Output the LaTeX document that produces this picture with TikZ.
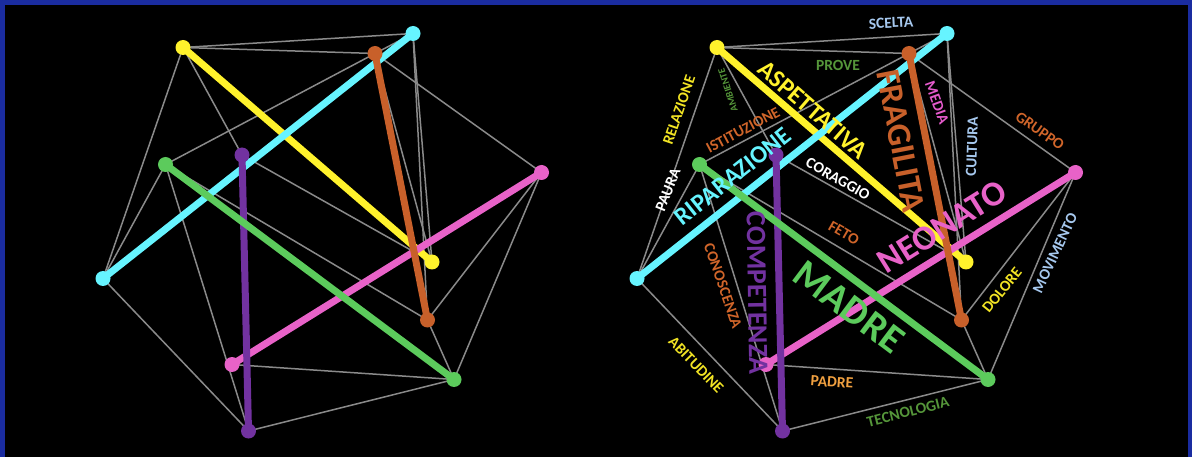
\documentclass[tikz,border=0pt]{standalone}
\usepackage{fontspec}
\setmainfont{Carlito}
\definecolor{frameblue}{HTML}{1A2CA0}
\definecolor{cyel}{HTML}{FFF22C}
\definecolor{ccya}{HTML}{66F4FF}
\definecolor{cora}{HTML}{C8602A}
\definecolor{cgre}{HTML}{5CCB5C}
\definecolor{cpur}{HTML}{7232A0}
\definecolor{cpin}{HTML}{E862C8}
\definecolor{cgray}{HTML}{8A8A8A}
\definecolor{tblue}{HTML}{A6C8EE}
\definecolor{tgreen}{HTML}{55963A}
\definecolor{torange}{HTML}{D0652A}
\definecolor{tlorange}{HTML}{F0A040}
\definecolor{tyel}{HTML}{F2E424}
\definecolor{tpink}{HTML}{E45ACB}
\tikzset{
  gl/.style={draw=cgray, line width=1.5pt},
  thk/.style={line width=7pt},
  lbl/.style={font=\bfseries\fontsize{15.5}{16}\selectfont, inner sep=0pt},
  bigbold/.style={font=\bfseries\fontsize{#1}{#1}\selectfont, inner sep=0pt}
}
\newcommand\icosa[1]{%
  \coordinate (#1Y1) at (183,47.5);   \coordinate (#1Y2) at (432,262);
  \coordinate (#1C1) at (413,33.5);   \coordinate (#1C2) at (103,278.5);
  \coordinate (#1O1) at (375,53.5);   \coordinate (#1O2) at (427.5,320);
  \coordinate (#1G1) at (165.5,164.5);\coordinate (#1G2) at (454,379.5);
  \coordinate (#1P1) at (242,155);    \coordinate (#1P2) at (248.5,431);
  \coordinate (#1K1) at (541.5,172.5);\coordinate (#1K2) at (232,364.5);
  \foreach \a/\b in {Y1/C1,Y1/O1,C1/O1,Y1/C2,Y1/P1,O1/G1,O1/K1,O1/Y2,C1/Y2,C1/O2,
                     G1/C2,G1/P2,G1/O2,P1/Y2,C2/P2,K2/G2,P2/G2,O2/G2,K1/G2,K1/O2}
    {\draw[gl] (#1\a) -- (#1\b);}
  \draw[thk, cyel] (#1Y1) -- (#1Y2);
  \draw[thk, ccya] (#1C1) -- (#1C2);
  \draw[thk, cpin] (#1K1) -- (#1K2);
  \draw[thk, cpur] (#1P1) -- (#1P2);
  \draw[thk, cgre] (#1G1) -- (#1G2);
  \draw[thk, cora] (#1O1) -- (#1O2);
  \foreach \p/\c in {Y1/cyel,Y2/cyel,C1/ccya,C2/ccya,K1/cpin,K2/cpin,P1/cpur,P2/cpur,G1/cgre,G2/cgre,O1/cora,O2/cora}
    {\fill[\c] (#1\p) circle[radius=7.5];}
}
\begin{document}
\begin{tikzpicture}[x=1pt,y=-1pt]
  \useasboundingbox (0,0) rectangle (1192,457);
  \fill[black] (0,0) rectangle (1192,457);
  \fill[frameblue] (0,0) rectangle (1192,5);
  \fill[frameblue] (0,0) rectangle (5,457);
  \fill[frameblue] (1188,0) rectangle (1192,457);
  \icosa{L}
  \begin{scope}[xshift=534pt]
    \icosa{R}
  \end{scope}
  % labels
  \node[lbl, text=tblue, rotate=3] (tScelta) at (891,23) {SCELTA};
  \node[lbl, text=tgreen] (tProve) at (838,65) {PROVE};
  \node[lbl, text=tyel, rotate=71] (tRel) at (679,110) {RELAZIONE};
  \node[font=\bfseries\fontsize{10}{10}\selectfont, inner sep=0pt, text=tgreen, rotate=108] (tAmb) at (728,90) {AMBIENTE};
  \node[lbl, text=torange, rotate=28] (tIst) at (743,130) {ISTITUZIONE};
  \node[lbl, text=white, rotate=68] (tPau) at (668,190) {PAURA};
  \node[bigbold=25, text=ccya, rotate=38.4] (tRip) at (733,176) {RIPARAZIONE};
  \node[bigbold=25, text=cyel, rotate=-40.8] (tAsp) at (813,110) {ASPETTATIVA};
  \node[bigbold=34, text=cora, rotate=-79] (tFra) at (901,141) {FRAGILITA};
  \node[lbl, text=tpink, rotate=-70] (tMed) at (937,103) {MEDIA};
  \node[lbl, text=tblue, rotate=88] (tCul) at (972,147) {CULTURA};
  \node[lbl, text=torange, rotate=-35] (tGru) at (1040,131) {GRUPPO};
  \node[lbl, text=white, rotate=-29.7] (tCor) at (838,179) {CORAGGIO};
  \node[lbl, text=torange, rotate=-30] (tFet) at (844,233) {FETO};
  \node[bigbold=35, text=cpin, rotate=32] (tNeo) at (942,227) {NEONATO};
  \node[bigbold=40, text=cgre, rotate=-37] (tMad) at (849,307) {MADRE};
  \node[bigbold=28, text=cpur, rotate=-89] (tCom) at (757,293) {COMPETENZA};
  \node[lbl, text=torange, rotate=-71] (tCon) at (723,286) {CONOSCENZA};
  \node[lbl, text=tyel, rotate=51] (tDol) at (1002,290) {DOLORE};
  \node[lbl, text=tblue, rotate=65] (tMov) at (1055,253) {MOVIMENTO};
  \node[lbl, text=tyel, rotate=-46] (tAbi) at (696,365) {ABITUDINE};
  \node[lbl, text=tlorange, rotate=-4] (tPad) at (832,382) {PADRE};
  \node[lbl, text=tgreen, rotate=14] (tTec) at (908,412) {TECNOLOGIA};
\end{tikzpicture}
\end{document}
